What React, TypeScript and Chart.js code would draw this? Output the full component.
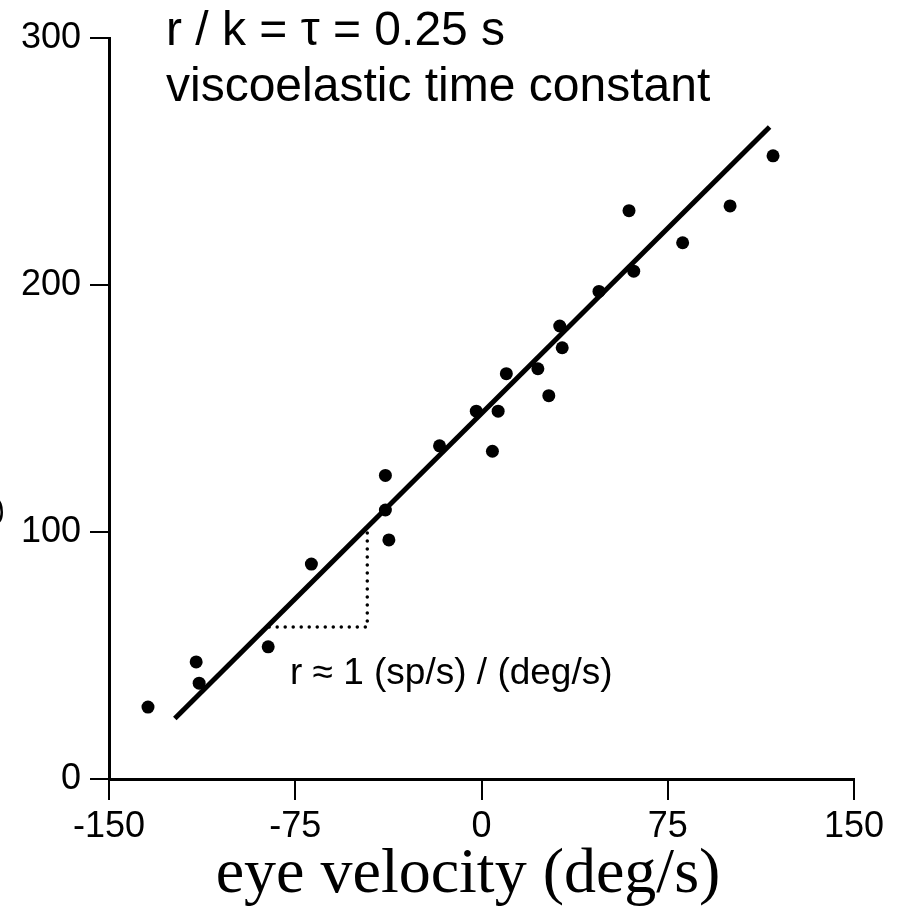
import React, { useEffect, useRef } from "react";
import { Chart, registerables } from "chart.js";

Chart.register(...registerables);

const xTickValues = [-150, -75, 0, 75, 150];
const yTickValues = [0, 100, 200, 300];

const eyeVelocity = [
  -134.3, -114.9, -113.7, -85.9, -68.5, -38.7, -38.7, -37.3, -16.9, -2.1, 4.4, 6.7,
  10.0, 22.7, 27.1, 31.5, 32.5, 47.3, 59.4, 61.3, 81.0, 100.1, 117.4,
];
const firingRate = [
  29.1, 47.4, 38.8, 53.5, 87.0, 122.9, 108.9, 96.8, 134.9, 148.9, 132.7, 148.9,
  164.1, 166.1, 155.2, 183.4, 174.6, 197.4, 230.1, 205.6, 217.1, 232.0, 252.3,
];

const fitVelocity = [-123.5, 116];
const fitRate = [24.5, 264];

const slopeVelocity = [-85.5, -46, -46];
const slopeRate = [61.5, 61.5, 101];

const annotationLines = ["r / k = \u03c4 = 0.25 s", "viscoelastic time constant"];
const slopeNote = "r \u2248 1 (sp/s) / (deg/s)";
const xTitle = "eye velocity (deg/s)";
const yTitle = "firing rate";

const SANS = "'Liberation Sans', Arial, sans-serif";
const SERIF = "'Liberation Serif', 'Times New Roman', serif";

const textPlugin = {
  id: "textPlugin",
  afterDraw(chart: any) {
    const ctx = chart.ctx as CanvasRenderingContext2D;
    ctx.save();
    ctx.fillStyle = "#000";
    ctx.textAlign = "left";
    ctx.textBaseline = "alphabetic";

    // top annotation
    ctx.font = `48px ${SANS}`;
    ctx.fillText(annotationLines[0], 166, 45);
    ctx.fillText(annotationLines[1], 166, 101);

    // slope note
    ctx.font = `37px ${SANS}`;
    ctx.fillText(slopeNote, 290, 684);

    // x title
    ctx.font = `64px ${SERIF}`;
    ctx.textAlign = "center";
    ctx.fillText(xTitle, 468, 892);

    // y title (mostly outside the canvas)
    ctx.textAlign = "left";
    const prefix = ctx.measureText("firin").width;
    ctx.translate(-11, 527 + prefix);
    ctx.rotate(-Math.PI / 2);
    ctx.fillText(yTitle, 0, 0);
    ctx.restore();
  },
};

export default function App() {
  const canvasRef = useRef<HTMLCanvasElement | null>(null);

  useEffect(() => {
    if (!canvasRef.current) return;
    const points = eyeVelocity.map((v, i) => ({ x: v, y: firingRate[i] }));
    const fit = fitVelocity.map((v, i) => ({ x: v, y: fitRate[i] }));
    const slope = slopeVelocity.map((v, i) => ({ x: v, y: slopeRate[i] }));

    const chart = new Chart(canvasRef.current, {
      type: "scatter",
      data: {
        datasets: [
          {
            data: slope,
            showLine: true,
            borderColor: "#000",
            borderWidth: 3.5,
            borderDash: [0.01, 8],
            borderCapStyle: "round",
            pointRadius: 0,
            fill: false,
          } as any,
          {
            data: fit,
            showLine: true,
            borderColor: "#000",
            borderWidth: 5,
            pointRadius: 0,
            fill: false,
          } as any,
          {
            data: points,
            backgroundColor: "#000",
            borderColor: "#000",
            pointRadius: 6.5,
            borderWidth: 0,
          },
        ],
      },
      options: {
        animation: false,
        responsive: false,
        devicePixelRatio: 1,
        layout: { padding: { top: 38, right: 48, left: 0, bottom: 0 } },
        plugins: {
          legend: { display: false },
          tooltip: { enabled: false },
        },
        scales: {
          x: {
            type: "linear",
            min: -150,
            max: 150,
            afterBuildTicks: (scale: any) => {
              scale.ticks = xTickValues.map((v) => ({ value: v }));
            },
            afterFit: (scale: any) => {
              scale.height = 140;
            },
            border: { display: true, color: "#000", width: 3 },
            grid: {
              drawOnChartArea: false,
              drawTicks: true,
              tickLength: 21,
              color: "#000",
              lineWidth: 2,
              tickWidth: 2,
              tickColor: "#000",
            } as any,
            ticks: {
              color: "#000",
              padding: 5,
              maxRotation: 0,
              font: { family: SANS, size: 36 },
            },
          },
          y: {
            type: "linear",
            min: 0,
            max: 300,
            afterBuildTicks: (scale: any) => {
              scale.ticks = yTickValues.map((v) => ({ value: v }));
            },
            afterFit: (scale: any) => {
              scale.width = 109;
            },
            border: { display: true, color: "#000", width: 3 },
            grid: {
              drawOnChartArea: false,
              drawTicks: true,
              tickLength: 19,
              color: "#000",
              lineWidth: 2,
              tickWidth: 2,
              tickColor: "#000",
            } as any,
            ticks: {
              color: "#000",
              padding: 9,
              font: { family: SANS, size: 36 },
            },
          },
        },
      },
      plugins: [textPlugin],
    });

    return () => chart.destroy();
  }, []);

  return (
    <div style={{ position: "fixed", left: 0, top: 0, width: 902, height: 919, background: "#fff" }}>
      <canvas ref={canvasRef} width={902} height={919} style={{ display: "block" }} />
    </div>
  );
}
